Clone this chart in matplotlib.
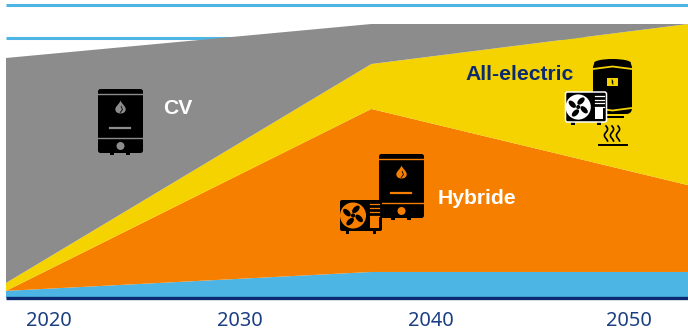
import numpy as np
import matplotlib
matplotlib.use("Agg")
import matplotlib.pyplot as plt
from matplotlib.patches import Circle, Ellipse, FancyBboxPatch, PathPatch, Rectangle
from matplotlib.path import Path

# heating mix per period, share of dwellings in percent, stacked bottom to top
years = [2017.75, 2036.9, 2053.5]
district = [2.6, 9.5, 9.5]
hybrid = [0.0, 59.5, 31.7]
all_electric = [2.9, 16.4, 58.8]
boiler = [82.1, 14.6, 0.0]
grid_levels = [94.9, 106.8]
tick_years = [2020, 2030, 2040, 2050.4]
tick_labels = ["2020", "2030", "2040", "2050"]

BLUE = "#4db5e3"
ORANGE = "#f77f00"
YELLOW = "#f5d300"
GREY = "#8c8c8c"
NAVY = "#0b2a6f"
W, H = 688, 334


def rrect(ax, x, y, w, h, fc, r=2.5, ec="none", lw=0, z=5):
    ax.add_patch(FancyBboxPatch((x + r, y + r), w - 2 * r, h - 2 * r, boxstyle=f"round,pad={r}",
                                fc=fc, ec=ec, lw=lw, zorder=z))


def flame(ax, cx, cy, s, fc):
    verts = [(0, -1), (0.2, -0.45), (0.8, -0.15), (0.8, 0.35), (0.8, 0.8), (0.4, 1), (0, 1),
             (-0.4, 1), (-0.8, 0.8), (-0.8, 0.35), (-0.8, -0.1), (-0.2, -0.4), (0, -1)]
    codes = [Path.MOVETO] + [Path.CURVE4] * 12
    pts = [(cx + a * s, cy + b * s) for a, b in verts]
    ax.add_patch(PathPatch(Path(pts, codes), fc=fc, ec="none", zorder=7))
    ax.plot([cx + 0.1 * s, cx + 0.3 * s, cx - 0.05 * s], [cy - 0.1 * s, cy + 0.4 * s, cy + 0.85 * s],
            color="black", lw=0.6, zorder=8)


def gas_boiler(ax, x, y, bg):
    # wall unit, 45 px wide and 64 px high
    rrect(ax, x, y, 45, 64, "black")
    for fx in (x + 14, x + 30):
        ax.add_patch(Rectangle((fx - 2, y + 64), 4, 2, fc="black", ec="none", zorder=5))
    ax.plot([x, x + 45], [y + 5, y + 5], color=bg, lw=1, zorder=6)
    ax.plot([x, x + 45], [y + 49, y + 49], color=bg, lw=1, zorder=6)
    ax.plot([x + 12, x + 32], [y + 39, y + 39], color=bg, lw=1.6, zorder=6)
    ax.add_patch(Circle((x + 22.5, y + 57), 4, fc=bg, ec="none", zorder=6))
    flame(ax, x + 22.5, y + 18, 6.5, bg)


def fan(ax, cx, cy, r, bg, blade):
    ax.add_patch(Circle((cx, cy), r, fc=bg, ec="none", zorder=7))
    for a in (25, 115, 205, 295):
        t = np.radians(a)
        px, py = cx + 0.52 * r * np.cos(t), cy + 0.52 * r * np.sin(t)
        ax.add_patch(Ellipse((px, py), 0.72 * r, 0.4 * r, angle=a + 20, fc=blade, ec="none", zorder=8))
    ax.add_patch(Circle((cx, cy), 0.16 * r, fc=blade, ec="none", zorder=9))


def heat_pump(ax, x, y, w, h, hole, edge="none"):
    for fx in (x + 0.14 * w, x + 0.78 * w):
        ax.add_patch(Rectangle((fx, y + h), 0.08 * w, 2.5, fc="black", ec="none", zorder=6))
    rrect(ax, x, y, w, h, "black", r=2, ec=edge, lw=1.1 if edge != "none" else 0, z=6)
    fan(ax, x + 0.31 * w, y + 0.5 * h, 0.42 * h, hole, "black")
    for i in range(4):
        vy = y + (0.14 + i * 0.12) * h
        ax.plot([x + 0.72 * w, x + 0.93 * w], [vy, vy], color=hole, lw=0.9, zorder=7)
    ax.add_patch(Rectangle((x + 0.72 * w, y + 0.54 * h), 0.2 * w, 0.36 * h, fc=hole, ec="none", zorder=7))


def tank(ax, x, y, w, h, bg):
    rrect(ax, x, y + 3, w, h - 6, "black", r=6, z=4)
    ax.add_patch(Ellipse((x + w / 2, y + 4), w - 2, 8, fc="black", ec="none", zorder=4))
    ax.add_patch(Ellipse((x + w / 2, y + h - 7), w - 2, 8, fc="black", ec="none", zorder=4))
    ax.plot([x, x + w / 2, x + w], [y + 10, y + 7.5, y + 10], color=bg, lw=1.3, zorder=5)
    ax.plot([x, x + w / 2, x + w], [y + 49, y + 51.5, y + 49], color=bg, lw=1.3, zorder=5)
    ax.add_patch(Rectangle((x + 14, y + 19), 11, 8, fc=bg, ec="none", zorder=5))
    ax.plot([x + 19, x + 20, x + 19, x + 20], [y + 21, y + 23, y + 23, y + 25], color="black", lw=0.7, zorder=6)
    ax.add_patch(Rectangle((x + 10, y + 57), 21, 2, fc="black", ec="none", zorder=4))


def heat_waves(ax, x, y, h):
    t = np.linspace(0, 1, 30)
    for i in range(3):
        ax.plot(x + i * 6 + 1.6 * np.sin(t * 2 * np.pi * 1.2), y + t * h, color="black", lw=1.2, zorder=5)
    ax.plot([x - 7, x + 21], [y + h + 3.5, y + h + 3.5], color="black", lw=1.4, zorder=5)


fig = plt.figure(figsize=(W / 100, H / 100), dpi=100)
ax = fig.add_axes([6 / W, 1 - 298 / H, 682 / W, 274 / H])
ax.set_xlim(years[0], years[-1])
ax.set_ylim(0, 100)
ax.patch.set_alpha(0)
ax.stackplot(years, district, hybrid, all_electric, boiler, colors=[BLUE, ORANGE, YELLOW, GREY],
             linewidth=0, zorder=3)
for g in grid_levels:
    ax.plot([0, 1], [g, g], transform=ax.get_yaxis_transform(), color=BLUE, lw=2.2, clip_on=False,
            solid_capstyle="butt", zorder=2)
ax.plot([0, 1], [0, 0], transform=ax.get_yaxis_transform(), color=NAVY, lw=2.4, clip_on=False,
        solid_capstyle="butt", zorder=4)
for s in ax.spines.values():
    s.set_visible(False)
ax.set_yticks([])
ax.set_xticks(tick_years)
ax.set_xticklabels(tick_labels, family="Noto Sans", fontsize=14.4, color="#1c3f82")
ax.tick_params(axis="x", length=0, pad=9)

# icons and series names sit on a pixel-scaled overlay
ov = fig.add_axes([0, 0, 1, 1])
ov.set_xlim(0, W)
ov.set_ylim(H, 0)
ov.axis("off")
ov.patch.set_alpha(0)

gas_boiler(ov, 98, 89, GREY)
gas_boiler(ov, 379, 154, ORANGE)
heat_pump(ov, 340, 200, 42, 31, ORANGE)
tank(ov, 593, 59, 39, 58, YELLOW)
heat_pump(ov, 565.5, 92, 41, 30, "white", edge="white")
heat_waves(ov, 606, 126, 15)

label_font = dict(family="Liberation Sans", fontweight="bold", fontsize=15.2, va="center", zorder=10)
ov.text(163, 108, "CV", color="white", **label_font)
ov.text(437.5, 198.5, "Hybride", color="white", **label_font)
ov.text(465, 75, "All-electric", color=NAVY, **label_font)

fig.savefig("out.png", dpi=100)
